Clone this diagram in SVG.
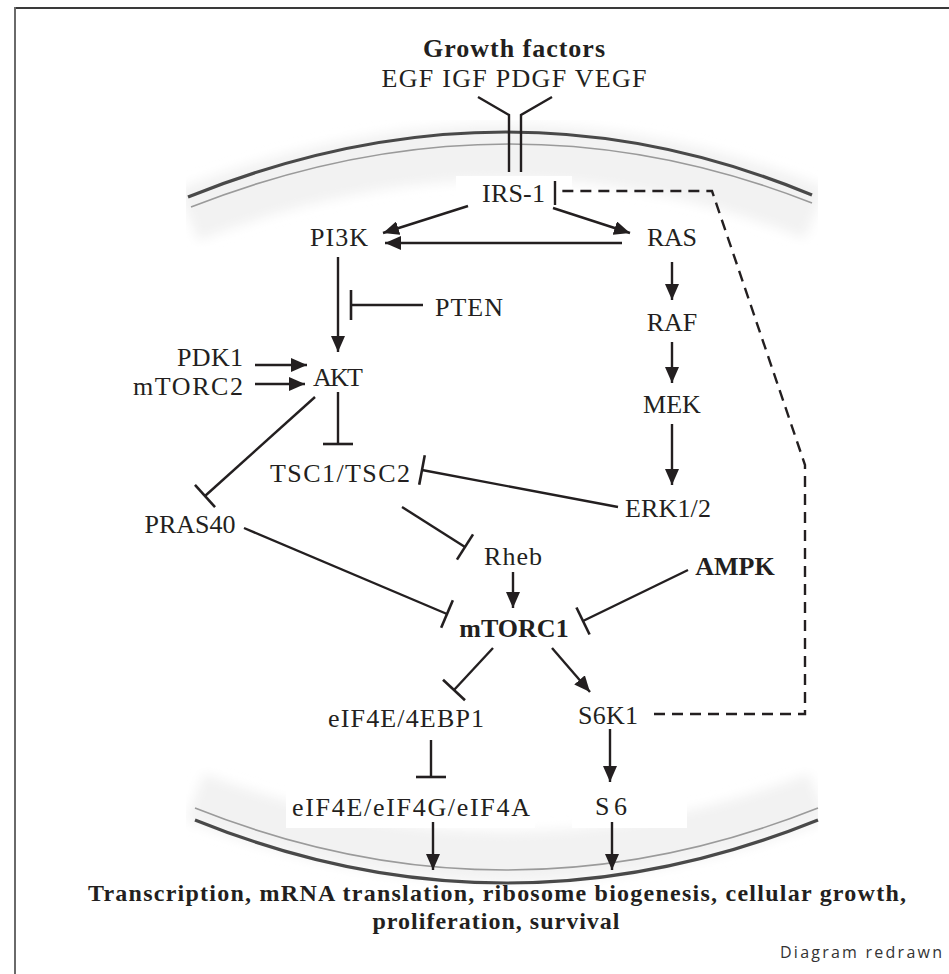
<svg xmlns="http://www.w3.org/2000/svg" width="949" height="974" viewBox="0 0 949 974">
  <defs>
    <style>
      .lbl { font-family: "Liberation Serif", "Times New Roman", serif; font-size: 26px; fill: #231f20; text-anchor: middle; }
      .b { font-weight: bold; }
      .out { font-family: "Liberation Serif", "Times New Roman", serif; font-size: 24px; font-weight: bold; fill: #231f20; text-anchor: middle; }
      .note { font-family: "Open Sans", "Liberation Sans", sans-serif; font-size: 16px; fill: #333333; }
      .act { fill: none; stroke: #231f20; stroke-width: 2.4; marker-end: url(#arrow); }
      .inh { fill: none; stroke: #231f20; stroke-width: 2.4; marker-end: url(#tee); }
      .dash { fill: none; stroke: #231f20; stroke-width: 2.4; stroke-dasharray: 11 7; }
      .plain { fill: none; stroke: #231f20; stroke-width: 2.4; }
      .memDark { fill: none; stroke: #4a4a4a; stroke-width: 3.2; filter: url(#soft); }
      .memLight { fill: none; stroke: #9a9a9a; stroke-width: 1.6; }
      .haze { fill: none; stroke: #f2f2f2; filter: url(#haze); }
    </style>
    <marker id="arrow" markerUnits="userSpaceOnUse" markerWidth="18" markerHeight="14" refX="16" refY="7" orient="auto">
      <path d="M0,0 L16,7 L0,14 z" fill="#231f20"/>
    </marker>
    <marker id="tee" markerUnits="userSpaceOnUse" markerWidth="4" markerHeight="32" refX="2" refY="16" orient="auto">
      <path d="M2,1 L2,31" stroke="#231f20" stroke-width="2.6"/>
    </marker>
    <filter id="soft" x="-5%" y="-20%" width="110%" height="140%">
      <feGaussianBlur stdDeviation="0.6"/>
    </filter>
    <filter id="haze" x="-10%" y="-50%" width="120%" height="200%">
      <feGaussianBlur stdDeviation="6"/>
    </filter>
    <clipPath id="memClip">
      <rect x="186" y="90" width="632" height="820"/>
    </clipPath>
  </defs>

  <rect x="0" y="0" width="949" height="974" fill="#ffffff"/>

  <!-- frame -->
  <line x1="14" y1="8" x2="949" y2="8" stroke="#3a3a3a" stroke-width="2"/>
  <line x1="15" y1="7" x2="15" y2="974" stroke="#6a6a6a" stroke-width="2"/>

  <!-- cell membranes -->
  <g id="membranes">
    <g clip-path="url(#memClip)">
      <path class="haze" stroke-width="55" d="M188,215 Q507,90 815,213"/>
      <path class="haze" stroke-width="50" d="M195,797 Q506,917 818,797"/>
    </g>
    <rect x="456" y="176" width="116" height="36" fill="#ffffff"/>
    <rect x="300" y="222" width="78" height="32" fill="#ffffff"/>
    <rect x="638" y="222" width="68" height="32" fill="#ffffff"/>
    <rect x="286" y="787" width="249" height="41" fill="#ffffff"/>
    <rect x="572" y="787" width="115" height="41" fill="#ffffff"/>
    <path class="memDark" d="M188,197 Q507,68 812,195"/>
    <path class="memLight" d="M191,207 Q507,83 812,203"/>
    <path class="memLight" d="M195,808 Q506,932 818,808"/>
    <path class="memDark" d="M195,820 Q506,946 818,820"/>
  </g>

  <!-- receptor -->
  <g id="receptor">
    <path class="plain" d="M478,97 L509,115 L509,172"/>
    <path class="plain" d="M552,97 L521,115 L521,172"/>
  </g>

  <!-- connectors -->
  <g id="connectors">
    <line class="act" x1="468" y1="206" x2="383" y2="233"/>
    <line class="act" x1="553" y1="208" x2="630" y2="233"/>
    <line class="act" x1="622" y1="243" x2="385" y2="243"/>
    <line class="act" x1="338" y1="257" x2="338" y2="352"/>
    <line class="inh" x1="423" y1="305" x2="351" y2="305"/>
    <line class="act" x1="672" y1="262" x2="672" y2="300"/>
    <line class="act" x1="672" y1="342" x2="672" y2="383"/>
    <line class="act" x1="672" y1="424" x2="672" y2="485"/>
    <line class="act" x1="255" y1="365" x2="307" y2="365"/>
    <line class="act" x1="255" y1="384" x2="305" y2="384"/>
    <line class="inh" x1="338" y1="392" x2="338" y2="444"/>
    <line class="inh" x1="618" y1="507" x2="422" y2="470"/>
    <line class="inh" x1="315" y1="397" x2="205" y2="496"/>
    <line class="inh" x1="244" y1="528" x2="447" y2="614"/>
    <line class="inh" x1="402" y1="507" x2="465" y2="547"/>
    <line class="act" x1="513" y1="572" x2="513" y2="608"/>
    <line class="inh" x1="688" y1="570" x2="583" y2="621"/>
    <line class="inh" x1="493" y1="648" x2="454" y2="690"/>
    <line class="act" x1="552" y1="648" x2="590" y2="692"/>
    <line class="inh" x1="431" y1="740" x2="431" y2="777"/>
    <line class="act" x1="610" y1="729" x2="610" y2="782"/>
    <line class="act" x1="433" y1="822" x2="433" y2="870"/>
    <line class="act" x1="612" y1="822" x2="612" y2="870"/>
    <!-- S6K1 feedback onto IRS-1 -->
    <path class="dash" d="M654,714 L805,714 L805,465 L712,191 L560,191"/>
    <line class="plain" x1="555" y1="181" x2="555" y2="205"/>
  </g>

  <!-- nodes -->
  <g id="growth-factors">
    <text class="lbl b" x="514" y="57" textLength="182">Growth factors</text>
    <text class="lbl" x="514" y="87" font-size="27" textLength="265">EGF IGF PDGF VEGF</text>
  </g>
  <g id="irs1"><text class="lbl" x="513.5" y="202" textLength="63">IRS-1</text></g>
  <g id="pi3k"><text class="lbl" x="339" y="246" textLength="58">PI3K</text></g>
  <g id="ras"><text class="lbl" x="672" y="246" textLength="50">RAS</text></g>
  <g id="pten"><text class="lbl" x="469" y="316" textLength="68">PTEN</text></g>
  <g id="raf"><text class="lbl" x="672" y="331">RAF</text></g>
  <g id="mek"><text class="lbl" x="672" y="413">MEK</text></g>
  <g id="erk"><text class="lbl" x="668" y="517" textLength="86">ERK1/2</text></g>
  <g id="pdk1"><text class="lbl" x="210" y="366" textLength="66">PDK1</text></g>
  <g id="mtorc2"><text class="lbl" x="188" y="395" textLength="110">mTORC2</text></g>
  <g id="akt"><text class="lbl" x="338" y="386" textLength="50">AKT</text></g>
  <g id="tsc"><text class="lbl" x="340" y="482" textLength="140">TSC1/TSC2</text></g>
  <g id="pras40"><text class="lbl" x="190" y="533" font-size="25">PRAS40</text></g>
  <g id="rheb"><text class="lbl" x="513" y="565" textLength="58">Rheb</text></g>
  <g id="ampk"><text class="lbl b" x="735" y="575">AMPK</text></g>
  <g id="mtorc1"><text class="lbl b" x="514" y="637">mTORC1</text></g>
  <g id="eif4e-4ebp1"><text class="lbl" x="406" y="727" textLength="156">eIF4E/4EBP1</text></g>
  <g id="s6k1"><text class="lbl" x="608" y="724" textLength="60">S6K1</text></g>
  <g id="eif4f"><text class="lbl" x="411" y="816" textLength="238">eIF4E/eIF4G/eIF4A</text></g>
  <g id="s6"><text class="lbl" x="611" y="815" textLength="32">S6</text></g>
  <g id="outcome">
    <text class="out" x="497" y="901" textLength="818">Transcription, mRNA translation, ribosome biogenesis, cellular growth,</text>
    <text class="out" x="496" y="929" textLength="247">proliferation, survival</text>
  </g>
  <text class="note" x="780" y="958" textLength="162">Diagram redrawn</text>
</svg>
